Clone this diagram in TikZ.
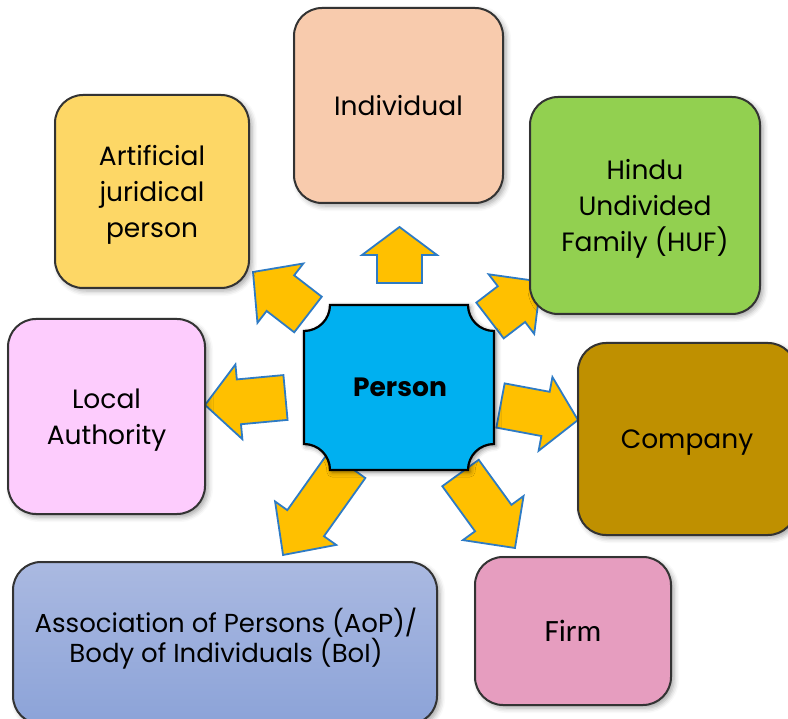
\documentclass[tikz,border=0pt]{standalone}
\usepackage{fontspec}
\setmainfont{Poppins}
\newfontfamily\firmfont{Carlito}
\usetikzlibrary{shadows.blur}
\definecolor{cInd}{HTML}{F8CBAD}
\definecolor{cArt}{HTML}{FDD766}
\definecolor{cHuf}{HTML}{92D050}
\definecolor{cLoc}{HTML}{FDCCFD}
\definecolor{cCom}{HTML}{BF9000}
\definecolor{cAopT}{HTML}{AAB9E1}
\definecolor{cAopB}{HTML}{8CA3D8}
\definecolor{cFirm}{HTML}{E69DBF}
\definecolor{cPerson}{HTML}{00B0F0}
\definecolor{cArrF}{HTML}{FFC000}
\definecolor{cArrD}{HTML}{2E7BC4}
\definecolor{cBorder}{HTML}{333333}
\newcommand\blockarr[4]{% tail coordinate, screen angle, length, head length
  \begin{scope}[shift={(#1)},rotate=#2]
    \draw[arrowshape] (0,-22.5) -- ({#3-#4},-22.5) -- ({#3-#4},-37.5) -- (#3,0)
      -- ({#3-#4},37.5) -- ({#3-#4},22.5) -- (0,22.5) -- cycle;
  \end{scope}}
\begin{document}
\begin{tikzpicture}[x=1pt,y=-1pt,
  arrowshape/.style={fill=cArrF,draw=cArrD,line width=1.8pt,line join=miter},
  boxstyle/.style={draw=cBorder,line width=2pt,rounded corners=28pt,align=center,
    inner sep=0pt,text depth=0pt,font=\fontsize{26.5}{36}\selectfont,
    blur shadow={shadow xshift=3pt,shadow yshift=-3pt,shadow blur radius=5pt,shadow opacity=35}},
  txt/.style={inner sep=0pt,align=center}]
\useasboundingbox (0,0) rectangle (788,719);
\clip (0,0) rectangle (788,719);
% arrow tails
\coordinate (tInd) at (399.5,283);
\coordinate (tArt) at (308,314.5);
\coordinate (tHuf) at (490,320.5);
\coordinate (tLoc) at (285.5,397.5);
\coordinate (tCom) at (500.5,405.5);
\coordinate (tAop) at (347,465);
\coordinate (tFirm) at (460.5,473);
\blockarr{tInd}{90}{56}{28}
\blockarr{tArt}{142.3}{69.5}{34.6}
\blockarr{tHuf}{37.4}{64}{37}
\blockarr{tLoc}{185.3}{80.8}{34}
\blockarr{tCom}{-10.6}{78.8}{33}
\blockarr{tAop}{-125.4}{110.4}{39}
\blockarr{tFirm}{-54}{92.7}{37}
% central person shape
\draw[fill=cPerson,draw=black,line width=2.2pt,
  blur shadow={shadow xshift=2pt,shadow yshift=-2pt,shadow blur radius=5pt,shadow opacity=50}]
  (330,305) -- (468,305) .. controls (468,319.4) and (479.6,331) .. (494,331)
  -- (494,444) .. controls (479.6,444) and (468,455.6) .. (468,470)
  -- (330,470) .. controls (330,455.6) and (318.4,444) .. (304,444)
  -- (304,331) .. controls (318.4,331) and (330,319.4) .. (330,305) -- cycle;
\node[txt,font=\fontsize{26.5}{30}\bfseries] (person) at (400,387) {Person};
% boxes
\node[boxstyle,fill=cInd,minimum width=209pt,minimum height=195pt] (ind) at (398.5,105.5) {Individual};
\node[boxstyle,fill=cArt,minimum width=194pt,minimum height=193pt] (art) at (152,191.5) {Artificial\\juridical\\person};
\node[boxstyle,fill=cHuf,minimum width=230pt,minimum height=217pt] (huf) at (645,205.5) {Hindu\\Undivided\\Family (HUF)};
\node[boxstyle,fill=cLoc,minimum width=197pt,minimum height=195pt] (loc) at (106.5,416.5) {Local\\Authority};
\node[boxstyle,fill=cCom,minimum width=218pt,minimum height=192pt] (com) at (687,439) {Company};
\node[boxstyle,top color=cAopT,bottom color=cAopB,draw=cBorder,minimum width=424pt,minimum height=162pt] (aop) at (225,643) {};
\node[txt,font=\fontsize{26}{29}\selectfont] (aoptext) at (226,639) {Association of Persons (AoP)/\\Body of Individuals (BoI)};
\node[boxstyle,fill=cFirm,minimum width=196pt,minimum height=148pt,font=\firmfont\fontsize{31}{36}\selectfont] (firm) at (573,631) {Firm};
\end{tikzpicture}
\end{document}
